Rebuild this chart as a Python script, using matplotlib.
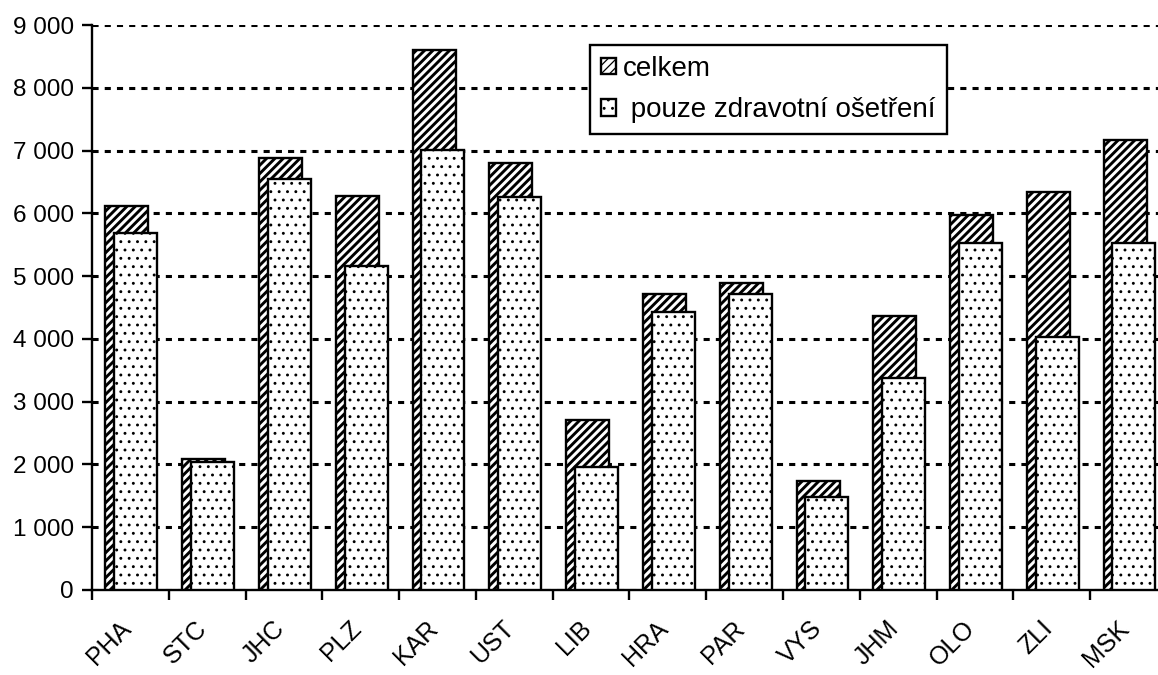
import numpy as np
import matplotlib
matplotlib.use("Agg")
from matplotlib import pyplot as plt
from matplotlib.ticker import FuncFormatter
from matplotlib.transforms import ScaledTranslation

# regions and values
regions = ["PHA", "STC", "JHC", "PLZ", "KAR", "UST", "LIB",
           "HRA", "PAR", "VYS", "JHM", "OLO", "ZLI", "MSK"]
celkem = [6120, 2090, 6880, 6280, 8600, 6800, 2710,
          4715, 4890, 1740, 4365, 5975, 6340, 7170]
zdrav = [5690, 2040, 6550, 5160, 7010, 6260, 1960,
         4430, 4715, 1480, 3380, 5530, 4030, 5530]
y_ticks = list(range(0, 9001, 1000))

plt.rcParams["font.family"] = ["Liberation Sans Narrow", "Liberation Sans", "DejaVu Sans"]
plt.rcParams["hatch.color"] = "black"

fig = plt.figure(figsize=(11.58, 6.75), dpi=100)
ax = fig.add_axes([92 / 1158, 85 / 675, 1075 / 1158, 565 / 675])

x = np.arange(len(regions))
w = 0.56

plt.rcParams["hatch.linewidth"] = 2.1
b1 = ax.bar(x - 0.045, celkem, width=w, facecolor="white", edgecolor="black",
            linewidth=1.7, hatch="////", label="celkem", zorder=3)
plt.rcParams["hatch.linewidth"] = 0.9
b2 = ax.bar(x + 0.07, zdrav, width=w, facecolor="white", edgecolor="black",
            linewidth=1.7, hatch="..", label=" pouze zdravotní ošetření", zorder=4)
for bars, lw in ((b1, 2.1), (b2, 0.9)):
    for p in bars:
        if hasattr(p, "set_hatch_linewidth"):
            p.set_hatch_linewidth(lw)

ax.set_xlim(-0.5, len(regions) - 0.5)
ax.set_ylim(0, 9000)
ax.set_yticks(y_ticks)
ax.yaxis.set_major_formatter(FuncFormatter(lambda v, p: f"{int(v):,}".replace(",", " ")))
ax.yaxis.grid(True, color="black", linestyle=(0, (2, 2)), linewidth=2.2)
ax.set_axisbelow(True)

ax.set_xticks(np.arange(len(regions) + 1) - 0.5)
ax.set_xticklabels([])
ax.set_xticks(x, minor=True)
ax.set_xticklabels(regions, minor=True, rotation=45, ha="right",
                   rotation_mode="anchor")
ax.tick_params(axis="x", which="minor", length=0, pad=19, labelsize=18)
ax.tick_params(axis="x", which="major", direction="out", length=7, width=1.7)
ax.tick_params(axis="y", direction="out", length=7, width=1.7, pad=6,
               labelsize=17.5)
shift = ScaledTranslation(-12 / 100, 0, fig.dpi_scale_trans)
for lbl in ax.get_xticklabels(minor=True):
    lbl.set_transform(lbl.get_transform() + shift)

for side in ["top", "right"]:
    ax.spines[side].set_visible(False)
for side in ["left", "bottom"]:
    ax.spines[side].set_linewidth(1.7)

leg = ax.legend(loc="upper left", bbox_to_anchor=(0.463, 0.965), fontsize=20,
                frameon=True, fancybox=False, framealpha=1, edgecolor="black",
                handlelength=0.55, handleheight=0.55, handletextpad=0.25,
                borderpad=0.4, labelspacing=0.55, borderaxespad=0)
leg.get_frame().set_linewidth(1.7)

fig.savefig("out.png", dpi=100)
